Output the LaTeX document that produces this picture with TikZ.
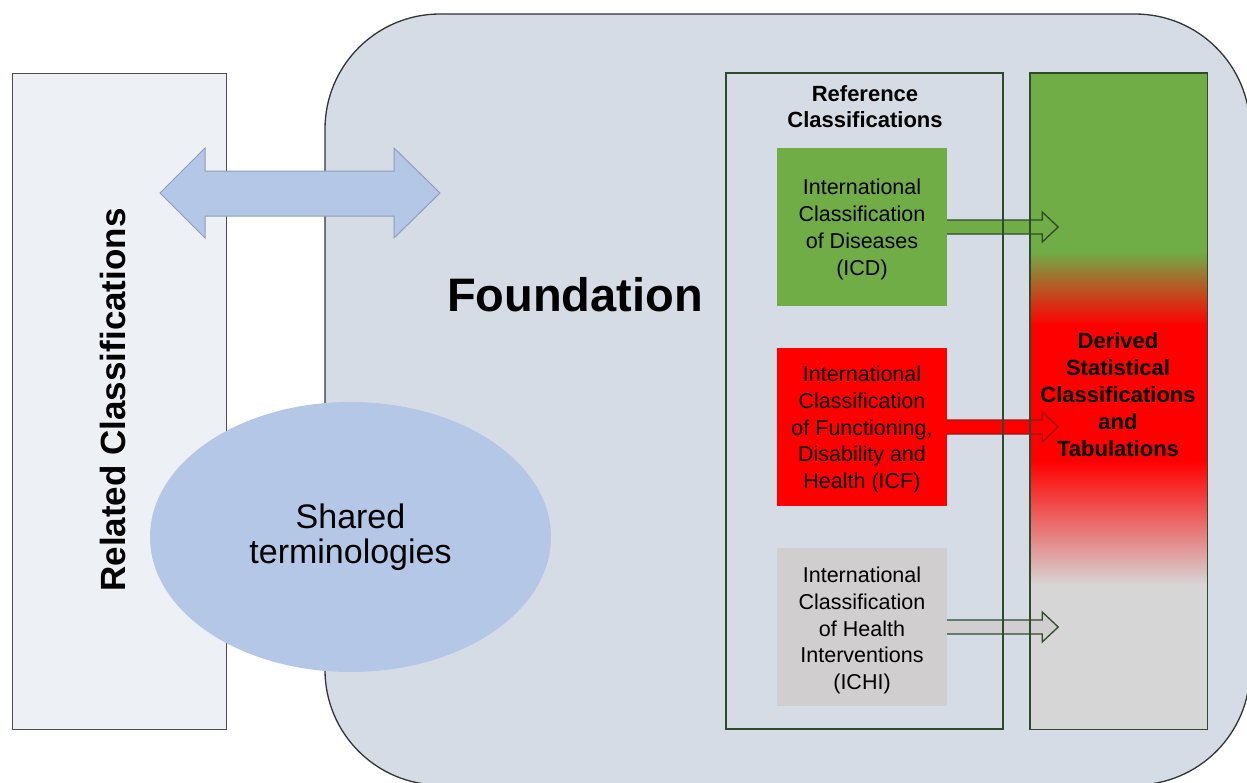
\documentclass[tikz,border=0pt]{standalone}
\usepackage{fontspec}
\setmainfont{Liberation Sans}
\usetikzlibrary{calc,shapes.geometric}
\definecolor{fndfill}{HTML}{D6DCE5}
\definecolor{relfill}{HTML}{EDF0F5}
\definecolor{softblue}{HTML}{B4C7E7}
\definecolor{softblueline}{HTML}{8E9FBA}
\definecolor{icdgreen}{HTML}{70AD47}
\definecolor{icfred}{HTML}{FF0000}
\definecolor{ichigray}{HTML}{D0CECE}
\definecolor{dergray}{HTML}{D6D6D6}
\definecolor{dkgreen}{HTML}{2E4A2A}
\definecolor{dkred}{HTML}{9A1515}
\begin{document}
\begin{tikzpicture}[x=1pt,y=-1pt,
  classbox/.style={minimum width=170pt,minimum height=158pt,inner sep=0pt},
  classtext/.style={align=center,font=\fontsize{21.5}{26.8}\selectfont,inner sep=0pt},
  hollowarrow/.style={line width=1.3pt,line join=miter},
  framebox/.style={draw=dkgreen,line width=1.4pt}]
\useasboundingbox (0,0) rectangle (1247,782);
% Foundation
\node[draw=black!80,line width=1.3pt,fill=fndfill,rounded corners=115pt,
  minimum width=925pt,minimum height=771pt,inner sep=0pt] (fnd) at (787.5,399.5) {};
% Related classifications
\node[draw=black!70,line width=1pt,fill=relfill,minimum width=214pt,minimum height=656pt,
  inner sep=0pt] (rel) at (119,401) {};
\node[rotate=90,font=\bfseries\fontsize{35}{40}\selectfont] (reltext) at (113,400) {Related Classifications};
% Shared terminologies ellipse
\node[ellipse,fill=softblue,minimum width=401pt,minimum height=270pt,inner sep=0pt,
  align=center,font=\fontsize{34}{35}\selectfont] (shared) at (350.5,537) {Shared\\terminologies};
% double arrow
\draw[fill=softblue,draw=softblueline,line width=1pt,line join=miter]
  (160,193) -- (205,148) -- (205,171) -- (394,171) -- (394,148) -- (440,193)
  -- (394,238) -- (394,216) -- (205,216) -- (205,238) -- cycle;
% Foundation label
\node[font=\bfseries\fontsize{47}{50}\selectfont] (fndtext) at (575,295) {Foundation};
% Derived box fill (gradient)
\fill[icdgreen] (1030,73) rectangle (1207,252);
\shade[top color=icdgreen,bottom color=icfred] (1030,251.5) rectangle (1207,325);
\fill[icfred] (1030,324.5) rectangle (1207,462);
\shade[top color=icfred,bottom color=dergray] (1030,461.5) rectangle (1207,585);
\fill[dergray] (1030,584.5) rectangle (1207,729);
\node[minimum width=177pt,minimum height=656pt,inner sep=0pt] (der) at (1118.5,401) {};
% classification boxes
\node[classbox,fill=icdgreen] (icd) at (862,227) {};
\node[classbox,fill=icfred] (icf) at (862,427) {};
\node[classbox,fill=ichigray] (ichi) at (862,627) {};
\node[classtext] (icdtext) at ($(icd)+(0,2.5)$) {International\\Classification\\of Diseases\\(ICD)};
\node[classtext] (icftext) at ($(icf)+(0,2.5)$) {International\\Classification\\of Functioning,\\Disability and\\Health (ICF)};
\node[classtext] (ichitext) at ($(ichi)+(0,3.5)$) {International\\Classification\\of Health\\Interventions\\(ICHI)};
% hollow arrows
\foreach \b/\f/\d in {icd/icdgreen/dkgreen, icf/icfred/dkred, ichi/ichigray/dkgreen}{
  \draw[hollowarrow,fill=\f,draw=\d]
    ($(\b.east)+(0,-7)$) -- ($(\b.east)+(95,-7)$) -- ($(\b.east)+(95,-15)$)
    -- ($(\b.east)+(111,0)$) -- ($(\b.east)+(95,15)$) -- ($(\b.east)+(95,7)$)
    -- ($(\b.east)+(0,7)$);
}
% frames
\node[framebox,minimum width=277pt,minimum height=656pt,inner sep=0pt] (ref) at (864.5,401) {};
\node[align=center,font=\bfseries\fontsize{22}{26}\selectfont] (reftext) at (865,107) {Reference\\Classifications};
\draw[framebox] (der.north west) rectangle (der.south east);
\node[align=center,font=\bfseries\fontsize{22}{27}\selectfont] (dertext) at (1118,395)
  {Derived\\Statistical\\Classifications\\and\\Tabulations};
\end{tikzpicture}
\end{document}
